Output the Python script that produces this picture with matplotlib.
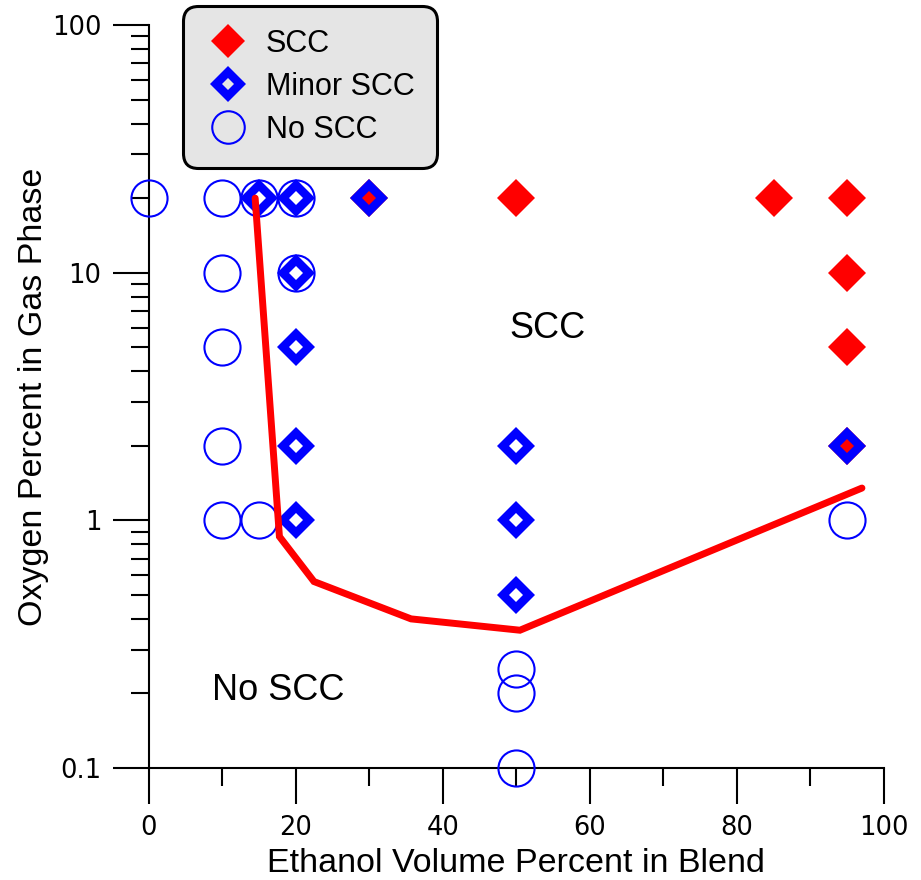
import matplotlib
matplotlib.use("Agg")
import matplotlib.pyplot as plt
from matplotlib.ticker import FixedLocator, LogLocator, NullFormatter, FuncFormatter

# Test conditions: ethanol volume percent in blend vs oxygen percent in gas phase
no_scc_x = [0, 10, 10, 10, 10, 10, 15, 15, 20, 20, 50, 50, 50, 95]
no_scc_y = [20, 20, 10, 5, 2, 1, 20, 1, 20, 10, 0.25, 0.2, 0.1, 1]

minor_x = [15, 20, 20, 20, 20, 20, 30, 50, 50, 50, 95]
minor_y = [20, 20, 10, 5, 2, 1, 20, 2, 1, 0.5, 2]

scc_x = [30, 50, 85, 95, 95, 95, 95]
scc_y = [20, 20, 20, 20, 10, 5, 2]

# Boundary separating cracking from no cracking
bound_x = [14.5, 17.8, 22.5, 35.7, 50.5, 97.0]
bound_y = [20.0, 0.86, 0.566, 0.40, 0.36, 1.35]

x_ticks = [0, 20, 40, 60, 80, 100]
y_ticks = [0.1, 1, 10, 100]
y_tick_labels = ["0.1", "1", "10", "100"]

BLUE = "#0000ff"
RED = "#ff0000"

fig = plt.figure(figsize=(9.21, 8.8), dpi=100)
ax = fig.add_axes([148.5 / 921, 1 - 768 / 880, (884 - 148.5) / 921, (768 - 25) / 880])

ax.set_xlim(0, 100)
ax.set_yscale("log")
ax.set_ylim(0.1, 100)

h_no, = ax.plot(no_scc_x, no_scc_y, linestyle="none", marker="o", markersize=26,
                markerfacecolor="none", markeredgecolor=BLUE, markeredgewidth=1.5,
                clip_on=False, zorder=3, label="No SCC")
h_scc, = ax.plot(scc_x, scc_y, linestyle="none", marker="D", markersize=19.3,
                 markerfacecolor=RED, markeredgewidth=0, clip_on=False, zorder=4,
                 label="SCC")
h_minor, = ax.plot(minor_x, minor_y, linestyle="none", marker="D", markersize=13.2,
                   markerfacecolor="none", markeredgecolor=BLUE, markeredgewidth=6.1,
                   clip_on=False, zorder=5, label="Minor SCC")

ax.plot(bound_x, bound_y, color=RED, linewidth=5, solid_capstyle="round",
        solid_joinstyle="miter", zorder=6, clip_on=False)

ax.text(54.2, 5.95, "SCC", fontsize=26, family="Liberation Sans",
        ha="center", va="center")
ax.text(17.6, 0.205, "No SCC", fontsize=26, family="Liberation Sans",
        ha="center", va="center")

for side in ("top", "right"):
    ax.spines[side].set_visible(False)
for side in ("left", "bottom"):
    ax.spines[side].set_linewidth(1.5)
    ax.spines[side].set_color("black")

ax.xaxis.set_major_locator(FixedLocator(x_ticks))
ax.xaxis.set_minor_locator(FixedLocator([10, 30, 50, 70, 90]))
ax.yaxis.set_major_locator(FixedLocator(y_ticks))
ax.yaxis.set_major_formatter(FuncFormatter(lambda v, p: y_tick_labels[y_ticks.index(v)] if v in y_ticks else ""))
ax.yaxis.set_minor_locator(LogLocator(base=10, subs=range(2, 10)))
ax.yaxis.set_minor_formatter(NullFormatter())

ax.tick_params(which="major", direction="out", length=26, width=1.5, pad=8,
               labelsize=18.5, colors="black")
ax.tick_params(which="minor", direction="out", length=13, width=1.5)
for lab in ax.get_xticklabels() + ax.get_yticklabels():
    lab.set_family("DejaVu Sans")

ax.set_xlabel("Ethanol Volume Percent in Blend", fontsize=24.5,
              family="Liberation Sans", labelpad=5)
ax.set_ylabel("Oxygen Percent in Gas Phase", fontsize=24.5,
              family="Liberation Sans", labelpad=2)

leg = ax.legend(handles=[h_scc, h_minor, h_no], loc="upper left",
                bbox_to_anchor=(183 / 921, 1 - 6 / 880), bbox_transform=fig.transFigure,
                borderaxespad=0, prop={"family": "Liberation Sans", "size": 22},
                markerscale=0.9, numpoints=1, handlelength=1.44, handletextpad=0.52,
                borderpad=0.75, labelspacing=0.43, fancybox=True, framealpha=1)
frame = leg.get_frame()
frame.set_facecolor("#e5e5e5")
frame.set_edgecolor("black")
frame.set_linewidth(2.2)
frame.set_boxstyle("round", pad=0, rounding_size=0.5)

fig.savefig("out.png", dpi=100)
